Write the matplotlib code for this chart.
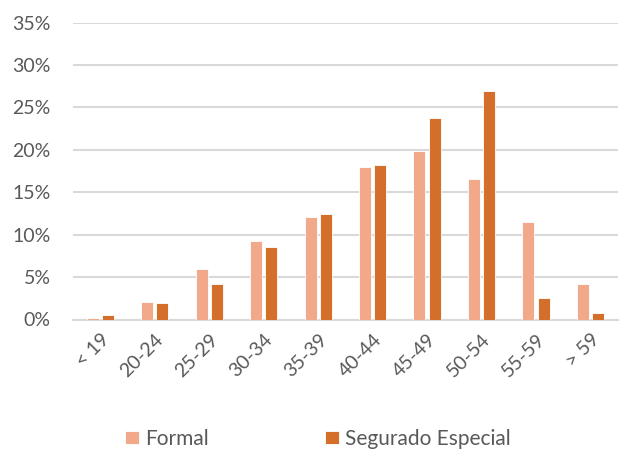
import matplotlib.pyplot as plt
import numpy as np
from matplotlib.ticker import FuncFormatter

faixas = ["< 19", "20-24", "25-29", "30-34", "35-39", "40-44", "45-49", "50-54", "55-59", "> 59"]
formal = [0.2, 2.1, 5.9, 9.3, 12.1, 18.0, 19.9, 16.5, 11.5, 4.15]
segurado_especial = [0.55, 1.95, 4.2, 8.55, 12.4, 18.25, 23.8, 26.9, 2.5, 0.75]

cor_formal = "#F2A98A"
cor_segurado = "#D46F2B"
cinza = "#595959"

plt.rcParams["font.family"] = ["Lato", "DejaVu Sans"]

fig = plt.figure(figsize=(6.24, 4.5), dpi=100)
ax = fig.add_axes([0.117, 0.29, 0.873, 0.66])

x = np.arange(len(faixas))
largura = 0.22
ax.bar(x - largura / 2 - 0.03, formal, largura, color=cor_formal,
       edgecolor="white", linewidth=0.6, label="Formal", zorder=3)
ax.bar(x + largura / 2 + 0.03, segurado_especial, largura, color=cor_segurado,
       edgecolor="white", linewidth=0.6, label="Segurado Especial", zorder=3)

ax.set_ylim(0, 35)
ax.set_xlim(-0.5, len(faixas) - 0.5)
ax.set_yticks(range(0, 36, 5))
ax.yaxis.set_major_formatter(FuncFormatter(lambda v, p: f"{v:.0f}%"))
ax.grid(axis="y", color="#D9D9D9", linewidth=1.5, zorder=0)

for s in ["top", "right", "left"]:
    ax.spines[s].set_visible(False)
ax.spines["bottom"].set_color("#D9D9D9")
ax.spines["bottom"].set_linewidth(1.5)

ax.set_xticks(x)
ax.set_xticklabels(faixas, rotation=45, ha="right", rotation_mode="anchor")
ax.tick_params(axis="both", length=0, labelsize=14, colors=cinza, pad=8)
ax.tick_params(axis="y", pad=16)

ax.legend(loc="upper center", bbox_to_anchor=(0.45, -0.305), ncol=2, frameon=False,
          fontsize=15, labelcolor=cinza, handlelength=0.65, handleheight=0.65,
          handletextpad=0.3, columnspacing=5.6)

fig.savefig("out.png", dpi=100)
